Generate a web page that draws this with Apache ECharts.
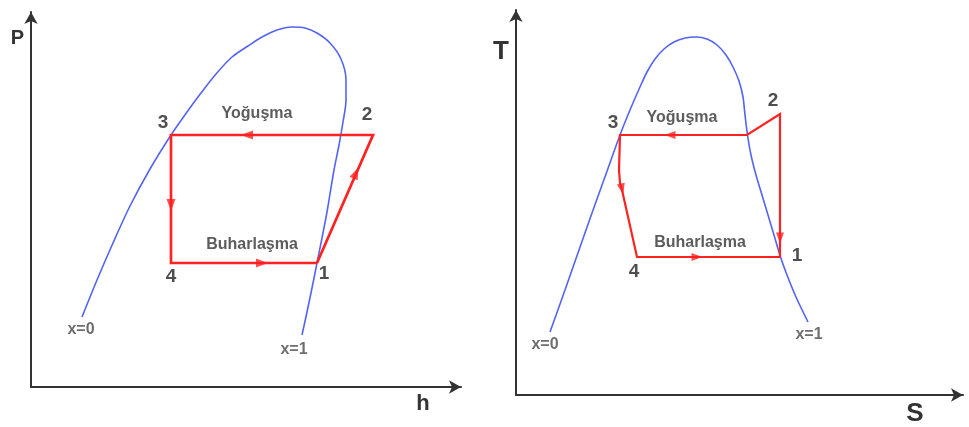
<!DOCTYPE html>
<html>
<head>
<meta charset="utf-8">
<script src="https://cdn.jsdelivr.net/npm/echarts@6/dist/echarts.min.js"></script>
<style>
  html, body { margin: 0; padding: 0; background: #ffffff; }
  #chart { width: 969px; height: 427px; }
</style>
</head>
<body>
<div id="chart"></div>
<script>
// ---- P-h diagram (enthalpy h, pressure P), arbitrary units ----
// saturation dome, from the liquid line (x=0) over the critical point to the vapour line (x=1)
const phDome = [[51,70],[66,107],[82,144],[99,181],[119,218],[140,252],[156,275],[170,294],[185,313],
  [201,330],[217,341],[231,350],[246,357],[261,360],[274,359],[286,354],[299,344],[310,328],[315,307],
  [315,287],[312,265],[308,242],[303,217],[296,175],[291,149],[286,124],[281,99],[276,75],[271,52]];
// states 1 -> 2 -> 3 -> 4 -> 1
const phCycle = [[286,124],[342,252],[140,252],[140,124],[286,124]];
// flow direction markers: [h, P, rotation]
const phArrows = [[216,252,90],[140,182,180],[231,124,-90],[325,214,-23.6]];
const phStateLabels = [[132,264,'3'],[336,272,'2'],[293,113,'1'],[140,110,'4']];
const phProcessLabels = [[226,273,'Yoğuşma'],[221,142,'Buharlaşma']];
const phQualityLabels = [[50,57,'x=0'],[263,37,'x=1']];

// ---- T-S diagram (entropy S, temperature T), arbitrary units ----
const tsDome = [[34,63],[49,105],[63,145],[76,182],[90,221],[104,260],[114,285],[124,308],[131,323],
  [139,336],[148,346],[158,353],[169,357],[180,358],[191,356],[201,350],[210,340],[217,328],[223,314],
  [227,298],[229,280],[231.5,260],[235,240],[240,220],[246,200],[252,180],[258,160],[264.5,138],
  [271,120],[280,98],[292,73]];
// states 1 -> 2 -> saturated vapour -> 3 -> 4 -> 1
const tsCycle = [[264,138],[264,281],[231,260],[104,260],[103,225],[104,212],[106,205],[121,138],[264,138]];
const tsArrows = [[154,260,90],[106,206,192.6],[181,138,-90],[264,157,180]];
const tsStateLabels = [[97,272,'3'],[257,294,'2'],[281,139,'1'],[118,123,'4']];
const tsProcessLabels = [[166,277,'Yoğuşma'],[184,152,'Buharlaşma']];
const tsQualityLabels = [[29,50,'x=0'],[293,60,'x=1']];

const FONT = '"Liberation Sans", Arial, sans-serif';
const DOME_COLOR = '#5464f2';
const CYCLE_COLOR = '#ff2222';

function axisPair(idx, xName, yName, xMax, yMax, xNameGap, yNameGap, sizes) {
  const line = {
    show: true,
    onZero: false,
    symbol: ['none', 'arrow'],
    symbolSize: [10, 12],
    lineStyle: { color: '#333333', width: 2 }
  };
  return {
    x: {
      type: 'value', gridIndex: idx, min: 0, max: xMax,
      axisLine: line, axisTick: { show: false }, axisLabel: { show: false },
      splitLine: { show: false },
      name: xName, nameLocation: 'end', nameGap: xNameGap,
      nameTextStyle: { fontFamily: FONT, fontWeight: 'bold', fontSize: sizes[0], color: '#333',
        align: 'center', verticalAlign: 'top', padding: [6, 0, 0, 0] }
    },
    y: {
      type: 'value', gridIndex: idx, min: 0, max: yMax,
      axisLine: line, axisTick: { show: false }, axisLabel: { show: false },
      splitLine: { show: false },
      name: yName, nameLocation: 'end', nameGap: yNameGap,
      nameTextStyle: { fontFamily: FONT, fontWeight: 'bold', fontSize: sizes[1], color: '#333',
        align: 'right', verticalAlign: 'middle', padding: [0, 7, 0, 0] }
    }
  };
}

function textSeries(idx, rows, size, color) {
  return {
    type: 'scatter', xAxisIndex: idx, yAxisIndex: idx, silent: true,
    symbolSize: 1, itemStyle: { color: 'rgba(0,0,0,0)' },
    data: rows.map(r => ({ value: [r[0], r[1]], name: r[2] })),
    label: {
      show: true, position: 'inside', formatter: p => p.name,
      fontFamily: FONT, fontWeight: 'bold', fontSize: size, color: color
    },
    z: 5
  };
}

function arrowSeries(idx, rows, size) {
  return {
    type: 'scatter', xAxisIndex: idx, yAxisIndex: idx, silent: true,
    symbol: 'triangle', symbolSize: size,
    itemStyle: { color: CYCLE_COLOR },
    data: rows.map(r => ({ value: [r[0], r[1]], symbolRotate: r[2] })),
    z: 4
  };
}

function diagramSeries(idx, dome, cycle, arrows, states, processes, qualities, cycleWidth, arrowSize) {
  return [
    {
      type: 'line', xAxisIndex: idx, yAxisIndex: idx, silent: true,
      data: dome, smooth: 0.3, showSymbol: false, symbol: 'none',
      lineStyle: { color: DOME_COLOR, width: 1.6 }, z: 2
    },
    {
      type: 'line', xAxisIndex: idx, yAxisIndex: idx, silent: true,
      data: cycle, smooth: false, showSymbol: false, symbol: 'none',
      lineStyle: { color: CYCLE_COLOR, width: cycleWidth, join: 'miter' }, z: 3
    },
    arrowSeries(idx, arrows, arrowSize),
    textSeries(idx, states, 19, '#222222'),
    textSeries(idx, processes, 16, '#333333'),
    textSeries(idx, qualities, 16, '#4a4a4a')
  ];
}

const left = axisPair(0, 'h', 'P', 430, 375, -38, -26, [22, 20]);
const right = axisPair(1, 'S', 'T', 447, 385, -48, -42, [26, 26]);

const option = {
  animation: false,
  backgroundColor: '#ffffff',
  grid: [
    { left: 31, top: 12, width: 430, height: 375 },
    { left: 516, top: 10, width: 447, height: 385 }
  ],
  xAxis: [left.x, right.x],
  yAxis: [left.y, right.y],
  series: [].concat(
    diagramSeries(0, phDome, phCycle, phArrows, phStateLabels, phProcessLabels, phQualityLabels, 2.7, [9, 12]),
    diagramSeries(1, tsDome, tsCycle, tsArrows, tsStateLabels, tsProcessLabels, tsQualityLabels, 2.2, [8, 11])
  )
};

const chart = echarts.init(document.getElementById('chart'), null, { renderer: 'canvas' });
chart.setOption(option);
</script>
</body>
</html>
